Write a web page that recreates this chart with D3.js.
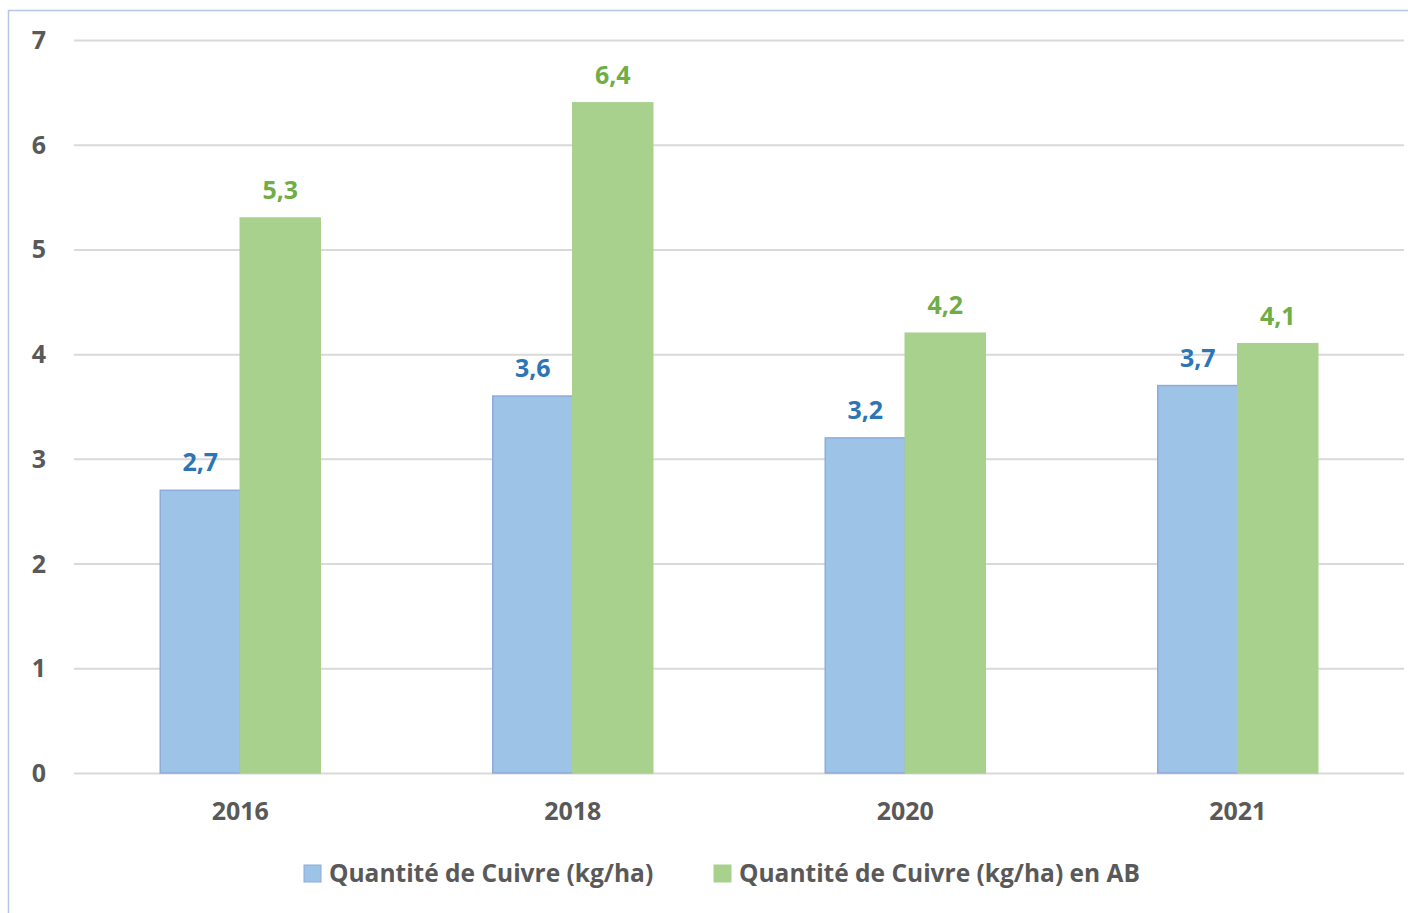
<!DOCTYPE html>
<html><head><meta charset="utf-8">
<script src="https://cdn.jsdelivr.net/npm/d3@7"></script>
<style>body{margin:0;background:#fff;}svg{display:block;}</style>
</head><body>
<svg id="c" width="1408" height="913"></svg>
<script>
const categories = ["2016", "2018", "2020", "2021"];
const seriesNames = ["Quantité de Cuivre (kg/ha)", "Quantité de Cuivre (kg/ha) en AB"];
const valuesAll = [2.7, 3.6, 3.2, 3.7];
const valuesAB = [5.3, 6.4, 4.2, 4.1];
const yTicks = [0, 1, 2, 3, 4, 5, 6, 7];

(function () {
const svg = d3.select("#c");
const font = "'Open Sans', Lato, sans-serif";
const fs = 25;
const colors = ["#9dc3e6", "#a9d18e"];
const strokes = ["#8faadc", "#a9d18e"];
const labelColors = ["#2e75b6", "#70ad47"];

// frame
svg.append("rect").attr("x", 8.5).attr("y", 10.5).attr("width", 1420).attr("height", 920)
  .attr("fill", "none").attr("stroke", "#b4c7e7").attr("stroke-width", 1.5);

const pL = 74, pR = 1404, pT = 40, pB = 773;
const x = d3.scaleBand().domain(categories).range([pL, pR]).paddingInner(0).paddingOuter(0);
const inner = d3.scaleBand().domain([0, 1]).range([0, 160]);
const y = d3.scaleLinear().domain([0, 7]).range([pB, pT]);

// gridlines
svg.append("g").selectAll("line").data(yTicks).join("line")
  .attr("x1", pL).attr("x2", pR)
  .attr("y1", d => y(d) + 0.5).attr("y2", d => y(d) + 0.5)
  .attr("stroke", "#d9d9d9").attr("stroke-width", 2);

// y axis labels
const yAxis = d3.axisLeft(y).tickValues(yTicks).tickSize(0).tickPadding(0).tickFormat(d3.format("d"));
const ya = svg.append("g").attr("transform", "translate(39,0)").call(yAxis);
ya.select(".domain").remove();
ya.selectAll("text").attr("font-family", font).attr("font-weight", "bold").attr("font-size", fs)
  .attr("fill", "#595959").attr("text-anchor", "middle").attr("dy", "0.34em");

// x axis labels
const xAxis = d3.axisBottom(x).tickSize(0).tickPadding(0);
const xa = svg.append("g").attr("transform", `translate(0,${pB + 29})`).call(xAxis);
xa.select(".domain").remove();
xa.selectAll("text").attr("font-family", font).attr("font-weight", "bold").attr("font-size", fs)
  .attr("fill", "#595959").attr("dy", "0.71em");

const series = [valuesAll, valuesAB];
series.forEach((vals, si) => {
  const g = svg.append("g");
  g.selectAll("rect").data(vals).join("rect")
    .attr("x", (d, i) => x(categories[i]) + x.bandwidth() / 2 - 80 + inner(si))
    .attr("y", d => y(d))
    .attr("width", inner.bandwidth())
    .attr("height", d => y(0) - y(d))
    .attr("fill", colors[si])
    .attr("stroke", strokes[si]).attr("stroke-width", 1.5);
  g.selectAll("text").data(vals).join("text")
    .attr("x", (d, i) => x(categories[i]) + x.bandwidth() / 2 - 80 + inner(si) + inner.bandwidth() / 2)
    .attr("y", d => y(d) - 19)
    .attr("text-anchor", "middle")
    .attr("font-family", font).attr("font-weight", "bold").attr("font-size", fs)
    .attr("fill", labelColors[si])
    .text(d => d3.format(".1f")(d).replace(".", ","));
});

// legend
const legendX = [304, 714];
seriesNames.forEach((name, i) => {
  svg.append("rect").attr("x", legendX[i]).attr("y", 865).attr("width", 17).attr("height", 17)
    .attr("fill", colors[i]).attr("stroke", strokes[i]).attr("stroke-width", 1);
  svg.append("text").attr("x", legendX[i] + 25).attr("y", 873).attr("dy", "0.36em")
    .attr("font-family", font).attr("font-weight", "bold").attr("font-size", 24.5)
    .attr("fill", "#595959").text(name);
});
})();
</script>
</body></html>
